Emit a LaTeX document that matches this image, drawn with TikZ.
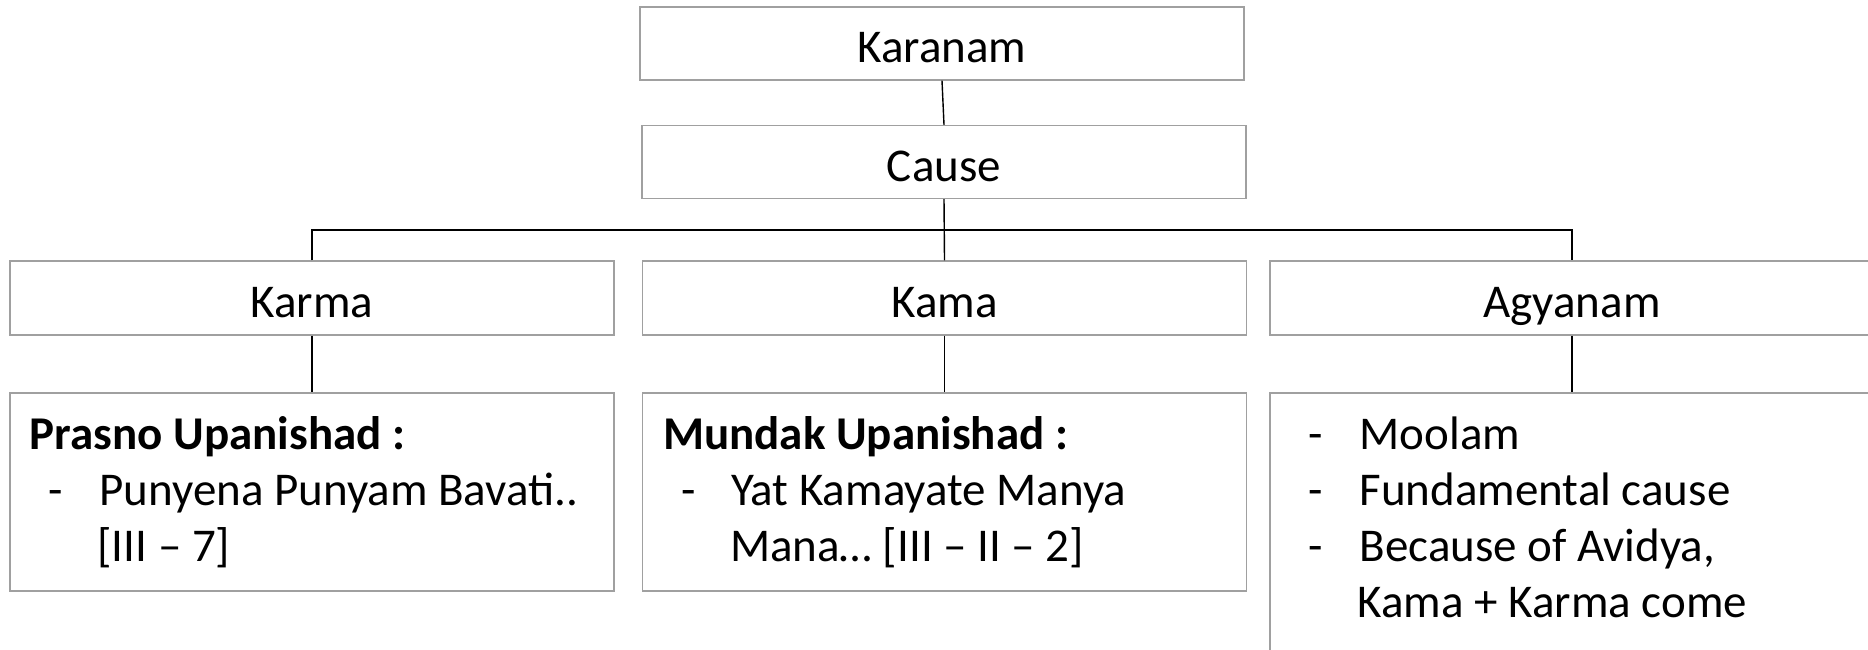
\documentclass[tikz,border=0pt]{standalone}
\usepackage{fontspec}
\setmainfont{Carlito}
\definecolor{boxgray}{HTML}{A0A0A0}
\begin{document}
\begin{tikzpicture}[x=1pt,y=-1pt,
  lbl/.style={draw=boxgray,line width=1.3pt,rectangle,inner sep=0pt,
    font=\fontsize{47}{56}\selectfont,text height=38pt,text depth=0pt},
  card/.style={draw=boxgray,line width=1.3pt,rectangle,inner sep=0pt},
  txt/.style={inner sep=0pt,anchor=base west,font=\fontsize{47}{56}\selectfont},
  conn/.style={draw=black,line width=1.4pt}]
\useasboundingbox (0,0) rectangle (1868,649);
\clip (0,0) rectangle (1868,649);
% level boxes
\node[lbl,minimum width=604pt,minimum height=73pt] (karanam) at (942,43.5) {Karanam};
\node[lbl,minimum width=604pt,minimum height=73pt] (cause) at (944,162) {Cause};
\node[lbl,minimum width=604pt,minimum height=74pt] (karma) at (312,298) {Karma};
\node[lbl,minimum width=604pt,minimum height=74pt] (kama) at (944.5,298) {Kama};
\node[lbl,minimum width=604pt,minimum height=74pt] (agyanam) at (1572,298) {Agyanam};
% content boxes
\node[card,minimum width=604pt,minimum height=198pt] (prasno) at (312,492) {};
\node[card,minimum width=604pt,minimum height=198pt] (mundak) at (944.5,492) {};
\node[card,minimum width=604pt,minimum height=320pt] (agy) at (1572,553) {};
% texts
\node[txt] (prasnotext) at ([xshift=20pt]prasno.west |- 0,449) {\begin{tabular}[t]{@{}l@{}}
\textbf{Prasno Upanishad :}\\
\makebox[70pt][l]{\hspace*{19pt}-}Punyena Punyam Bavati..\\
\hspace*{68pt}[III – 7]
\end{tabular}};
\node[txt] (mundaktext) at ([xshift=21pt]mundak.west |- 0,449) {\begin{tabular}[t]{@{}l@{}}
\textbf{Mundak Upanishad :}\\
\makebox[68pt][l]{\hspace*{18pt}-}Yat Kamayate Manya\\
\hspace*{67pt}Mana… [III – II – 2]
\end{tabular}};
\node[txt] (agytext) at ([xshift=20pt]agy.west |- 0,449) {\begin{tabular}[t]{@{}l@{}}
\makebox[70pt][l]{\hspace*{19pt}-}Moolam\\
\makebox[70pt][l]{\hspace*{19pt}-}Fundamental cause\\
\makebox[70pt][l]{\hspace*{19pt}-}Because of Avidya,\\
\hspace*{68pt}Kama + Karma come
\end{tabular}};
% connectors
\coordinate (bus) at (944,230);
\draw[conn] (karanam.south) -- (cause.north);
\draw[conn] (cause.south) -- (kama.north);
\draw[conn] (karma.north) |- (bus) -| (agyanam.north);
\draw[conn] (karma.south) -- (prasno.north);
\draw[conn] (kama.south) -- (mundak.north);
\draw[conn] (agyanam.south) -- (agy.north);
\end{tikzpicture}
\end{document}
